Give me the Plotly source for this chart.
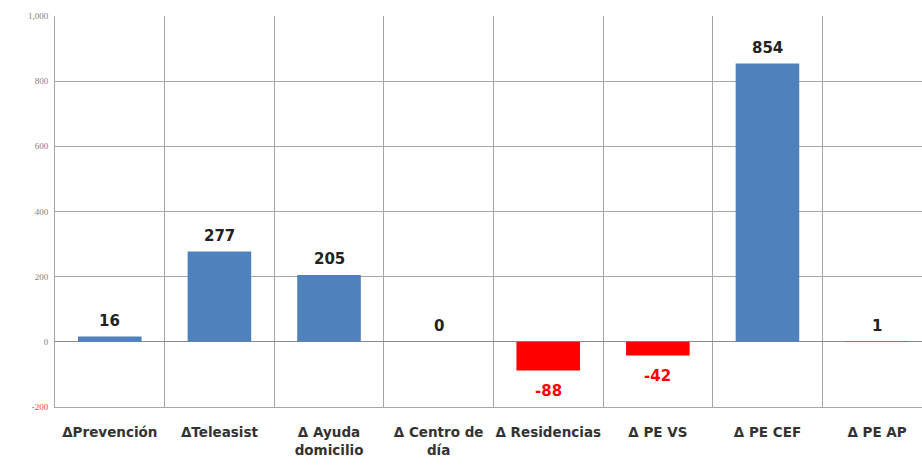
import plotly.graph_objects as go

categories = ["ΔPrevención", "ΔTeleasist", "Δ Ayuda<br>domicilio", "Δ Centro de<br>día",
              "Δ Residencias", "Δ PE VS", "Δ PE CEF", "Δ PE AP"]
values = [16, 277, 205, 0, -88, -42, 854, 1]
y_tickvals = [-200, 0, 200, 400, 600, 800, 1000]
y_ticktext = ["<span style='color:#FF4040'>-200</span>", "0", "200", "400", "600", "800", "1,000"]

BLUE = "#4F81BD"
RED = "#FF0000"
bar_colors = [RED if v < 0 else BLUE for v in values]
text_colors = [RED if v < 0 else "#222222" for v in values]

fig = go.Figure(go.Bar(
    x=categories, y=values,
    marker=dict(color=bar_colors, line=dict(width=0)),
    hoverinfo="x+y",
))

for c, v, col in zip(categories, values, text_colors):
    fig.add_annotation(
        x=c, y=v, text=str(v), showarrow=False,
        yanchor="middle", yshift=(-20 if v < 0 else 16),
        font=dict(family="DejaVu Sans, Liberation Sans", size=15, color=col, weight="bold"),
    )

fig.update_layout(
    width=922, height=465,
    margin=dict(l=55, r=0, t=16, b=58, autoexpand=False),
    plot_bgcolor="white", paper_bgcolor="white",
    bargap=0.42,
    showlegend=False,
    font=dict(family="DejaVu Sans, Liberation Sans"),
)
fig.update_xaxes(
    type="category", range=[-0.5, 7.41], automargin=False,
    tickson="boundaries", showgrid=True, gridcolor="#A6A6A6", gridwidth=1,
    ticks="", showline=True, linecolor="#A6A6A6", tickangle=0,
    tickfont=dict(family="DejaVu Sans, Liberation Sans", size=13.5, color="#333333", weight="bold"),
    ticklabelstandoff=13,
)
fig.update_yaxes(
    range=[-200, 1000], tickvals=y_tickvals, ticktext=y_ticktext, automargin=False,
    showgrid=True, gridcolor="#A6A6A6", gridwidth=1,
    zeroline=True, zerolinecolor="#8C8C8C", zerolinewidth=1,
    showline=True, linecolor="#A6A6A6", mirror=False,
    tickfont=dict(family="Liberation Serif, serif", size=9, color="#7F7F7F"),
    ticks="", ticklabelstandoff=4,
)

fig.write_html("out.html", config={"displayModeBar": False},
               post_script="document.body.style.margin='0';document.body.style.overflow='hidden';")
